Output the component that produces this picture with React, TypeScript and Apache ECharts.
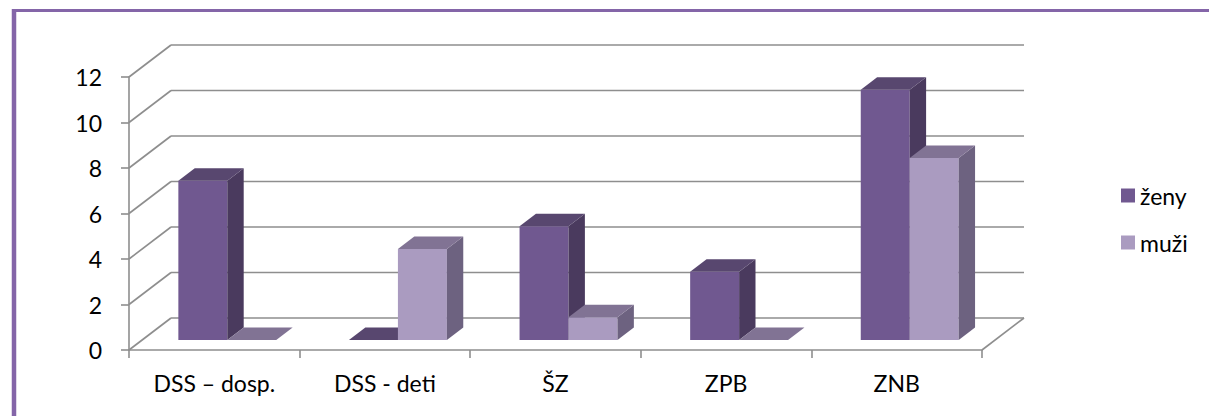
import React, { useEffect, useRef } from "react";
import * as echarts from "echarts";

const categories = ["DSS – dosp.", "DSS - deti", "ŠZ", "ZPB", "ZNB"];
const zenyValues = [7, 0, 5, 3, 11];
const muziValues = [0, 4, 1, 0, 8];
const yTicks = [0, 2, 4, 6, 8, 10, 12];
const seriesNames = ["ženy", "muži"];

const FONT = "Lato";
const FONT_SIZE = 23;
const DX = 42; // depth offset of the back wall
const DY = -32;
const BAR_FRONT = 0.31; // bars' front plane, as a share of the depth
const BAR_DEPTH = 0.39;
const BAR_W = 0.287; // share of a category band

const palette = {
  zeny: { front: "#705890", top: "#58476F", side: "#4A3A5E" },
  muzi: { front: "#AA9BC0", top: "#817394", side: "#6D6280" },
};

function barRenderer(offset: number, colors: { front: string; top: string; side: string }) {
  return (params: any, api: any) => {
    const cat = api.value(0);
    const v = api.value(1);
    const base = api.coord([cat, 0]);
    const top = api.coord([cat, v]);
    const band = api.size([1, 0])[0];
    const w = band * BAR_W;
    const fx = DX * BAR_FRONT;
    const fy = DY * BAR_FRONT;
    const bx = DX * BAR_DEPTH;
    const by = DY * BAR_DEPTH;
    const x0 = base[0] + fx + offset * w;
    const x1 = x0 + w;
    const yb = base[1] + fy;
    const yt = top[1] + fy;
    const children: any[] = [];
    if (yb - yt > 0.01) {
      children.push({
        type: "polygon",
        shape: { points: [[x0, yt], [x1, yt], [x1, yb], [x0, yb]] },
        style: { fill: colors.front },
      });
      children.push({
        type: "polygon",
        shape: { points: [[x1, yt], [x1 + bx, yt + by], [x1 + bx, yb + by], [x1, yb]] },
        style: { fill: colors.side },
      });
    }
    children.push({
      type: "polygon",
      shape: { points: [[x0, yt], [x1, yt], [x1 + bx, yt + by], [x0 + bx, yt + by]] },
      style: { fill: colors.top },
    });
    return { type: "group", children };
  };
}

function frameRenderer(params: any, api: any) {
  const cs = params.coordSys;
  const left = cs.x;
  const right = cs.x + cs.width;
  const bottom = cs.y + cs.height;
  const stroke = { stroke: "#8e8e8e", lineWidth: 1.6 };
  const children: any[] = [];
  yTicks.forEach((t) => {
    const y = api.coord([0, t])[1];
    children.push({
      type: "line",
      shape: { x1: left + DX, y1: y + DY, x2: right + DX, y2: y + DY },
      style: stroke,
    });
    children.push({
      type: "line",
      shape: { x1: left, y1: y, x2: left + DX, y2: y + DY },
      style: stroke,
    });
  });
  children.push({
    type: "line",
    shape: { x1: right, y1: bottom, x2: right + DX, y2: bottom + DY },
    style: stroke,
  });
  return { type: "group", children };
}

export default function App() {
  const ref = useRef<HTMLDivElement>(null);
  useEffect(() => {
    if (!ref.current) return;
    const chart = echarts.init(ref.current, null, { renderer: "svg" });
    chart.setOption({
      animation: false,
      backgroundColor: "#ffffff",
      grid: { left: 129, right: 227, top: 77, bottom: 66, containLabel: false },
      legend: {
        data: seriesNames,
        orient: "vertical",
        left: 1116,
        top: 179,
        itemWidth: 14,
        itemHeight: 14,
        itemGap: 24,
        icon: "rect",
        textStyle: { fontFamily: FONT, fontSize: FONT_SIZE, color: "#000" },
      },
      xAxis: {
        type: "category",
        data: categories,
        axisLine: { lineStyle: { color: "#8e8e8e", width: 1.6 } },
        axisTick: { show: true, length: 8, lineStyle: { color: "#8e8e8e", width: 1.6 } },
        axisLabel: { fontFamily: FONT, fontSize: FONT_SIZE, color: "#000", margin: 21 },
        splitLine: { show: false },
      },
      yAxis: {
        type: "value",
        min: 0,
        max: 12,
        interval: 2,
        axisLine: { show: true, lineStyle: { color: "#8e8e8e", width: 1.6 } },
        axisTick: { show: true, length: 8, lineStyle: { color: "#8e8e8e", width: 1.6 } },
        axisLabel: { fontFamily: FONT, fontSize: FONT_SIZE, color: "#000", margin: 27 },
        splitLine: { show: false },
      },
      graphic: [
        { type: "line", shape: { x1: 14, y1: 9, x2: 14, y2: 430 }, style: { stroke: "#8465A8", lineWidth: 4.5 } },
        { type: "line", shape: { x1: 12, y1: 10.5, x2: 1220, y2: 10.5 }, style: { stroke: "#8465A8", lineWidth: 3 } },
      ],
      series: [
        {
          type: "custom",
          name: "frame",
          data: [[0, 0]],
          encode: { x: 0, y: 1 },
          renderItem: frameRenderer,
          silent: true,
        },
        {
          type: "custom",
          name: seriesNames[0],
          itemStyle: { color: palette.zeny.front },
          data: zenyValues.map((v, i) => [i, v]),
          encode: { x: 0, y: 1 },
          renderItem: barRenderer(-1, palette.zeny),
        },
        {
          type: "custom",
          name: seriesNames[1],
          itemStyle: { color: palette.muzi.front },
          data: muziValues.map((v, i) => [i, v]),
          encode: { x: 0, y: 1 },
          renderItem: barRenderer(0, palette.muzi),
        },
      ],
    });
    return () => chart.dispose();
  }, []);
  return (
    <div
      ref={ref}
      style={{ position: "fixed", left: 0, top: 0, width: 1209, height: 416 }}
    />
  );
}
